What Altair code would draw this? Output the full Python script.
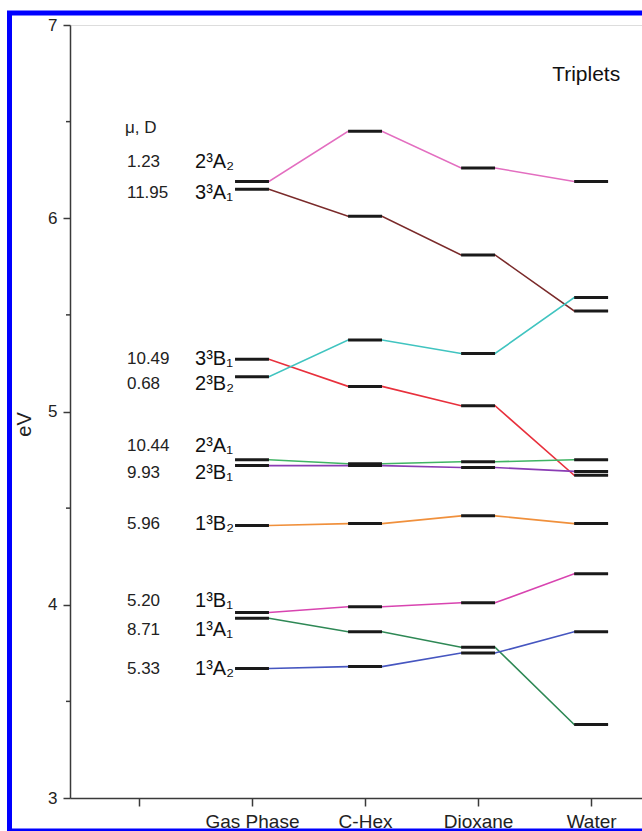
import json
import altair as alt
import pandas as pd

# ---- data ----
states = ["2³A₂", "3³A₁", "3³B₁", "2³B₂", "2³A₁", "2³B₁", "1³B₂", "1³B₁", "1³A₁", "1³A₂"]
dipoles = ["1.23", "11.95", "10.49", "0.68", "10.44", "9.93", "5.96", "5.20", "8.71", "5.33"]
gas_phase = [6.19, 6.15, 5.27, 5.18, 4.75, 4.72, 4.41, 3.96, 3.93, 3.67]
c_hex = [6.45, 6.01, 5.13, 5.37, 4.73, 4.72, 4.42, 3.99, 3.86, 3.68]
dioxane = [6.26, 5.81, 5.03, 5.30, 4.74, 4.71, 4.46, 4.01, 3.78, 3.75]
water = [6.19, 5.52, 4.67, 5.59, 4.75, 4.69, 4.42, 4.16, 3.38, 3.86]
x_labels = ["", "Gas Phase", "C-Hex", "Dioxane", "Water"]
label_ev = [6.29, 6.13, 5.27, 5.14, 4.82, 4.68, 4.42, 4.02, 3.87, 3.67]
minor_ticks = [3.5, 4.5, 5.5, 6.5]
major_ticks = [3, 4, 5, 6, 7]

colors = ["#e36ec0", "#7a2a2a", "#e8303c", "#40c4c0", "#40b464",
          "#8a3cb4", "#f0903c", "#d844b0", "#2e8855", "#4656c0"]

HALF = 0.15
FONT = "Liberation Sans"
AX = "#3a3a3a"

series = [gas_phase, c_hex, dioxane, water]
bar_rows, line_rows = [], []
for i, st in enumerate(states):
    for j, vals in enumerate(series):
        p = j + 1
        v = vals[i]
        bar_rows.append({"state": st, "x1": p - HALF, "x2": p + HALF, "v": v})
        line_rows.append({"state": st, "x": p - HALF, "v": v})
        line_rows.append({"state": st, "x": p + HALF, "v": v})
bars_df = pd.DataFrame(bar_rows)
lines_df = pd.DataFrame(line_rows)
labels_df = pd.DataFrame({"state": states, "dipole": dipoles, "ly": label_ev})

xscale = alt.Scale(domain=[-0.61, 4.45], nice=False, zero=False)
yscale = alt.Scale(domain=[3, 7], nice=False, zero=False)

xaxis = alt.Axis(values=[0, 1, 2, 3, 4], labelExpr=json.dumps(x_labels) + "[datum.value]",
                 title=None, grid=False, tickSize=8, tickWidth=1.5, tickColor=AX,
                 domainColor=AX, domainWidth=1.5, labelFontSize=19, labelColor="#222222",
                 labelPadding=6, labelFont=FONT)
yaxis = alt.Axis(values=major_ticks, format="d", title="eV", grid=False, tickSize=7,
                 tickWidth=1.5, tickColor=AX, domainColor=AX, domainWidth=1.5,
                 labelFontSize=17, labelColor="#222222", labelPadding=6, labelFont=FONT,
                 titleFontSize=20, titleFontWeight="normal", titleColor="#222222",
                 titleFont=FONT, titleX=-46, titleY=399, titleAngle=270,
                 titleAlign="center", titleBaseline="middle")

lines = alt.Chart(lines_df).mark_line(strokeWidth=1.6).encode(
    x=alt.X("x:Q", scale=xscale, axis=xaxis),
    y=alt.Y("v:Q", scale=yscale, axis=yaxis),
    color=alt.Color("state:N", scale=alt.Scale(domain=states, range=colors), legend=None),
    detail="state:N",
    order="x:Q",
)

bars = alt.Chart(bars_df).mark_rule(strokeWidth=3, color="#1a1a1a").encode(
    x="x1:Q", x2="x2:Q", y="v:Q"
)

minor = alt.Chart(pd.DataFrame({"t": minor_ticks})).mark_rule(
    color=AX, strokeWidth=1.5
).encode(y="t:Q", x=alt.value(-4), x2=alt.value(0))

dip_text = alt.Chart(labels_df).mark_text(
    align="left", baseline="middle", fontSize=17, font=FONT, color="#222222"
).encode(x=alt.datum(-0.106), y="ly:Q", text="dipole:N")

state_text = alt.Chart(labels_df).mark_text(
    align="left", baseline="middle", fontSize=20, font=FONT, color="#111111"
).encode(x=alt.datum(0.496), y="ly:Q", text="state:N")

mu_text = alt.Chart(pd.DataFrame({"t": ["μ, D"], "y": [6.467]})).mark_text(
    align="left", baseline="middle", fontSize=17, font=FONT, color="#222222"
).encode(x=alt.datum(-0.124), y="y:Q", text="t:N")

trip_text = alt.Chart(pd.DataFrame({"t": ["Triplets"], "y": [6.741]})).mark_text(
    align="left", baseline="middle", fontSize=21, font=FONT, color="#111111"
).encode(x=alt.datum(3.655), y="y:Q", text="t:N")

frame = alt.Chart(pd.DataFrame({"a": [0]})).mark_rect(
    fillOpacity=0, stroke="#0000ff", strokeWidth=5
).encode(x=alt.value(-60.5), x2=alt.value(585), y=alt.value(-12), y2=alt.value(806))

chart = alt.layer(lines, bars, minor, dip_text, state_text, mu_text, trip_text, frame).properties(
    width=572, height=773,
    autosize=alt.AutoSizeParams(type="none"),
    padding={"left": 70, "top": 25, "right": 0, "bottom": 33},
    background="white",
).configure_view(strokeWidth=0).configure(font=FONT)

chart.save("out.html", embed_options={"renderer": "svg", "actions": False})
